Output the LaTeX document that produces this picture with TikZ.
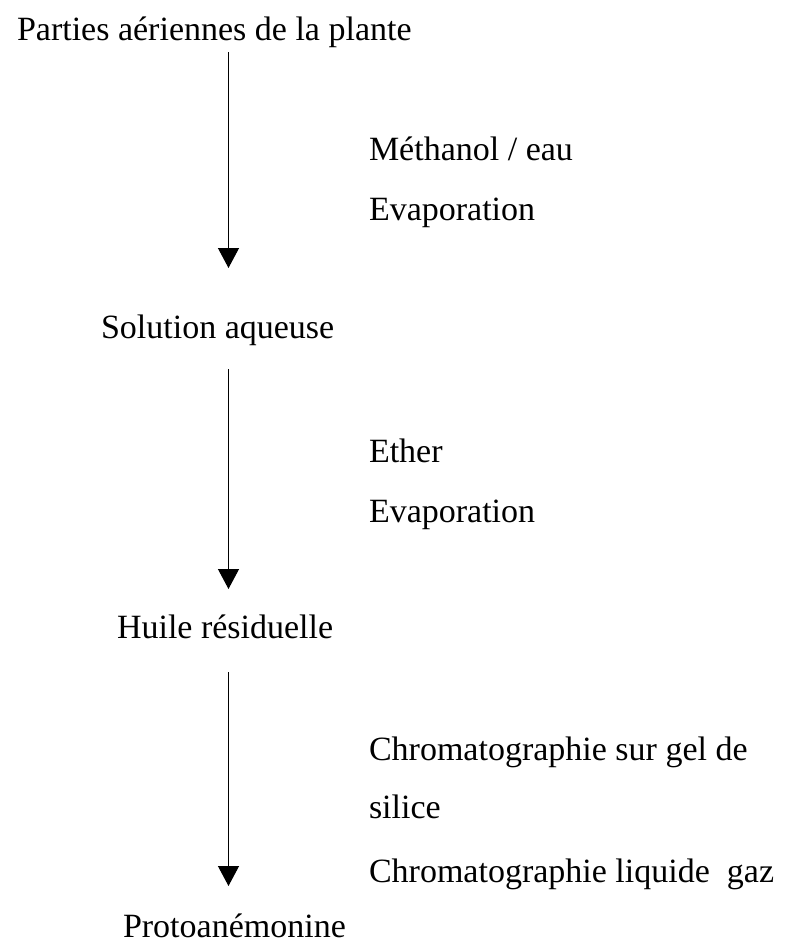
\documentclass[tikz,border=0pt]{standalone}
\usepackage{fontspec}
\setmainfont{Liberation Serif}
\usetikzlibrary{arrows.meta}
\tikzset{
  txt/.style={anchor=base west, inner sep=0pt, outer sep=0pt, font=\fontsize{34}{40}\selectfont},
  flow/.style={line width=1.2pt, -{Triangle[width=21pt,length=20pt]}}
}
\begin{document}
\begin{tikzpicture}[x=1pt,y=-1pt]
\fill[white] (0,0) rectangle (786,943);
\useasboundingbox (0,0) rectangle (786,943);
% main products
\node[txt] (top) at (17,40) {Parties aériennes de la plante};
\node[txt] (sol) at (101,338) {Solution aqueuse};
\node[txt] (huile) at (117,638) {Huile résiduelle};
\node[txt] (proto) at (123,937) {Protoanémonine};
% step labels
\node[txt] (m1) at (369,160) {Méthanol / eau};
\node[txt] (e1) at (369,220) {Evaporation};
\node[txt] (m2) at (369,462) {Ether};
\node[txt] (e2) at (369,522) {Evaporation};
\node[txt] (c1) at (369,760) {Chromatographie sur gel de};
\node[txt] (c2) at (369,818) {silice};
\node[txt] (c3) at (369,882) {Chromatographie liquide\ \ gaz};
% arrow ends
\coordinate (a1s) at (228.5,52);
\coordinate (a1e) at (228.5,268);
\coordinate (a2s) at (228.5,369);
\coordinate (a2e) at (228.5,589);
\coordinate (a3s) at (228.5,672);
\coordinate (a3e) at (228.5,886);
\draw[flow] (a1s) -- (a1e);
\draw[flow] (a2s) -- (a2e);
\draw[flow] (a3s) -- (a3e);
\end{tikzpicture}
\end{document}
